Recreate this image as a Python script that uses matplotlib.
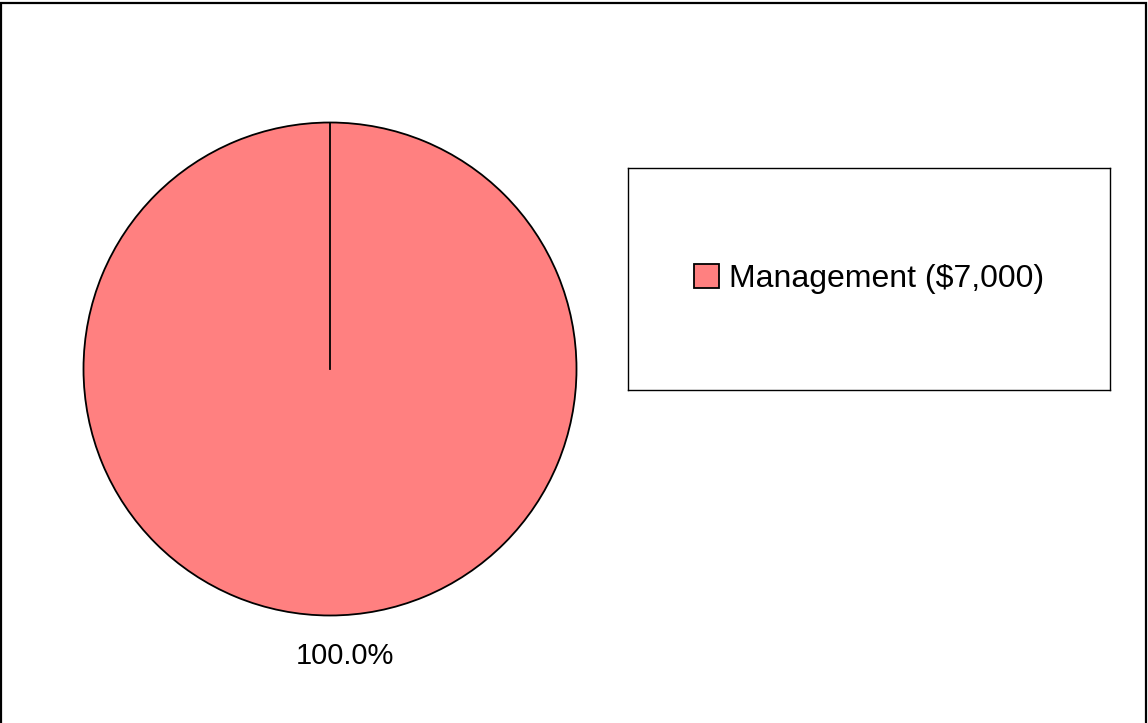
import matplotlib
matplotlib.use("Agg")
import matplotlib.pyplot as plt
from matplotlib.patches import Rectangle
import numpy as np

plt.rcParams['font.family'] = ['Liberation Sans', 'DejaVu Sans']

# data
categories = ['Management']
amounts = [7000]
colors = ['#FF8080']

W, H = 1148, 723
fig = plt.figure(figsize=(W / 100, H / 100), dpi=100)

# outer chart border (bottom edge runs off the image)
fig.patches.append(Rectangle((1 / W, -0.02), 1145 / W, 1.0 - 3 / H + 0.02,
                             transform=fig.transFigure, fill=False,
                             edgecolor='black', linewidth=1.6))

# pie axes: centre (330, 369) px, radius ~246 px
cx, cy, r = 330, 369, 246.5
ax = fig.add_axes([(cx - r) / W, (H - cy - r) / H, 2 * r / W, 2 * r / H])
start = 90
wedges, texts, autotexts = ax.pie(
    amounts, colors=colors, startangle=start, counterclock=False,
    autopct='%1.1f%%', pctdistance=1.165,
    wedgeprops=dict(edgecolor='black', linewidth=1.3),
    textprops=dict(fontsize=21, color='black'))
for t in autotexts:
    x, y = t.get_position()
    t.set_position((x + 0.06, y))

# Excel draws the start edge of a single-slice pie
ang = np.deg2rad(start)
ax.plot([0, np.cos(ang)], [0, np.sin(ang)], color='black', linewidth=1.3)
ax.set_xlim(-1, 1)
ax.set_ylim(-1, 1)
ax.axis('off')

# legend box
lx0, ly0, lx1, ly1 = 628, 168, 1110, 390
lax = fig.add_axes([lx0 / W, (H - ly1) / H, (lx1 - lx0) / W, (ly1 - ly0) / H])
lax.set_xticks([])
lax.set_yticks([])
for s in lax.spines.values():
    s.set_linewidth(1.0)
labels = [f'{c} (${v:,})' for c, v in zip(categories, amounts)]
lax.legend(wedges, labels, loc='center', bbox_to_anchor=(0.5, 0.5),
           frameon=False, fontsize=23, handlelength=0.8, handleheight=0.8,
           handletextpad=0.3)

fig.savefig('out.png', dpi=100)
